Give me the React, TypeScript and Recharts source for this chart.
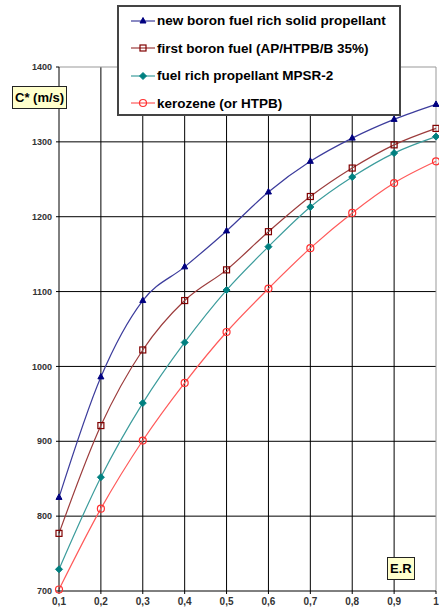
import React from "react";
import {
  LineChart,
  Line,
  XAxis,
  YAxis,
  CartesianGrid,
  ReferenceLine,
  Legend,
} from "recharts";

// equivalence ratio (x axis)
const er = [0.1, 0.2, 0.3, 0.4, 0.5, 0.6, 0.7, 0.8, 0.9, 1];

// characteristic velocity C* in m/s for each propellant
const newBoron = [825, 986, 1088, 1133, 1181, 1233, 1274, 1305, 1330, 1350];
const firstBoron = [777, 921, 1022, 1088, 1129, 1180, 1227, 1265, 1296, 1318];
const mpsr2 = [729, 852, 951, 1032, 1102, 1160, 1213, 1253, 1285, 1307];
const kerozene = [702, 810, 901, 978, 1046, 1104, 1158, 1205, 1245, 1274];

const yTicks = [700, 800, 900, 1000, 1100, 1200, 1300, 1400];

const data = er.map((x, i) => ({
  er: x,
  newBoron: newBoron[i],
  firstBoron: firstBoron[i],
  mpsr2: mpsr2[i],
  kerozene: kerozene[i],
}));

type Marker = "triangle" | "square" | "diamond" | "circle";

const series: { key: string; name: string; line: string; mark: string; marker: Marker }[] = [
  { key: "newBoron", name: "new boron fuel rich solid propellant", line: "#3c3c9c", mark: "#000080", marker: "triangle" },
  { key: "firstBoron", name: "first boron fuel (AP/HTPB/B 35%)", line: "#9c3c3c", mark: "#800000", marker: "square" },
  { key: "mpsr2", name: "fuel rich propellant MPSR-2", line: "#3c9c9c", mark: "#008080", marker: "diamond" },
  { key: "kerozene", name: "kerozene (or HTPB)", line: "#ff5a5a", mark: "#ff3030", marker: "circle" },
];

const FONT = "'Liberation Sans', Arial, sans-serif";

function markerShape(marker: Marker, color: string, cx: number, cy: number, key?: string) {
  switch (marker) {
    case "triangle":
      return (
        <path key={key} d={`M${cx},${cy - 3.5} L${cx + 3},${cy + 2} L${cx - 3},${cy + 2} Z`} fill={color} stroke={color} />
      );
    case "square":
      return <rect key={key} x={cx - 3} y={cy - 3} width={6} height={6} fill="none" stroke={color} strokeWidth={1.2} />;
    case "diamond":
      return (
        <path key={key} d={`M${cx},${cy - 3.5} L${cx + 3.5},${cy} L${cx},${cy + 3.5} L${cx - 3.5},${cy} Z`} fill={color} stroke={color} />
      );
    default:
      return <circle key={key} cx={cx} cy={cy} r={3.5} fill="none" stroke={color} strokeWidth={1.2} />;
  }
}

const LegendBox = () => (
  <div
    style={{
      border: "2px solid #444",
      background: "#fff",
      width: 280,
      height: 107,
      fontFamily: FONT,
      fontWeight: "bold",
      fontSize: 13.5,
      color: "#000",
    }}
  >
    {series.map((s) => (
      <div key={s.key} style={{ display: "flex", alignItems: "center", height: 27.5, paddingLeft: 12 }}>
        <svg width={25} height={12} style={{ marginRight: 1 }}>
          <line x1={0} y1={6} x2={24} y2={6} stroke={s.line} strokeWidth={1.2} />
          {markerShape(s.marker, s.mark, 12, 6)}
        </svg>
        <span style={{ whiteSpace: "nowrap" }}>{s.name}</span>
      </div>
    ))}
  </div>
);

const boxLabel: React.CSSProperties = {
  position: "absolute",
  background: "#ffffcc",
  border: "1px solid #222",
  fontFamily: FONT,
  fontWeight: "bold",
  fontSize: 13,
  color: "#000",
  lineHeight: "21px",
  padding: "0 2px",
  whiteSpace: "nowrap",
};

export default function App() {
  return (
    <div style={{ position: "absolute", left: 0, top: 0, width: 439, height: 611, background: "#fff" }}>
      <LineChart
        width={439}
        height={611}
        data={data}
        margin={{ top: 67, right: 3, left: 0, bottom: 0 }}
      >
        <CartesianGrid
          stroke="#000"
          strokeWidth={1}
          horizontalValues={[800, 900, 1000, 1100, 1200, 1300]}
          verticalValues={[0.2, 0.3, 0.4, 0.5, 0.6, 0.7, 0.8, 0.9]}
        />
        <ReferenceLine y={1400} stroke="#999" strokeWidth={1} />
        <ReferenceLine x={1} stroke="#999" strokeWidth={1} />
        <XAxis
          dataKey="er"
          type="number"
          domain={[0.1, 1]}
          ticks={er}
          height={20}
          tickSize={3}
          tickMargin={4}
          axisLine={{ stroke: "#000" }}
          tickLine={{ stroke: "#000" }}
          tick={{ fill: "#333", fontSize: 10, fontWeight: "bold", fontFamily: FONT }}
          tickFormatter={(v: number) => String(v).replace(".", ",")}
        />
        <YAxis
          type="number"
          domain={[700, 1400]}
          ticks={yTicks}
          width={59}
          tickSize={3}
          tickMargin={4}
          axisLine={{ stroke: "#000" }}
          tickLine={{ stroke: "#000" }}
          tick={{ fill: "#333", fontSize: 9, fontWeight: "bold", fontFamily: FONT }}
        />
        {series.map((s) => (
          <Line
            key={s.key}
            dataKey={s.key}
            name={s.name}
            type="monotone"
            stroke={s.line}
            strokeWidth={1.2}
            isAnimationActive={false}
            dot={(p: any) => markerShape(s.marker, s.mark, p.cx, p.cy, `${s.key}-${p.index}`)}
            activeDot={false}
          />
        ))}
        <Legend
          layout="vertical"
          align="center"
          verticalAlign="middle"
          content={() => <LegendBox />}
          wrapperStyle={{ left: 117, top: 5, width: 284 }}
        />
      </LineChart>
      <div style={{ ...boxLabel, left: 12, top: 86 }}>C* (m/s)</div>
      <div style={{ ...boxLabel, left: 387, top: 557 }}>E.R</div>
    </div>
  );
}
